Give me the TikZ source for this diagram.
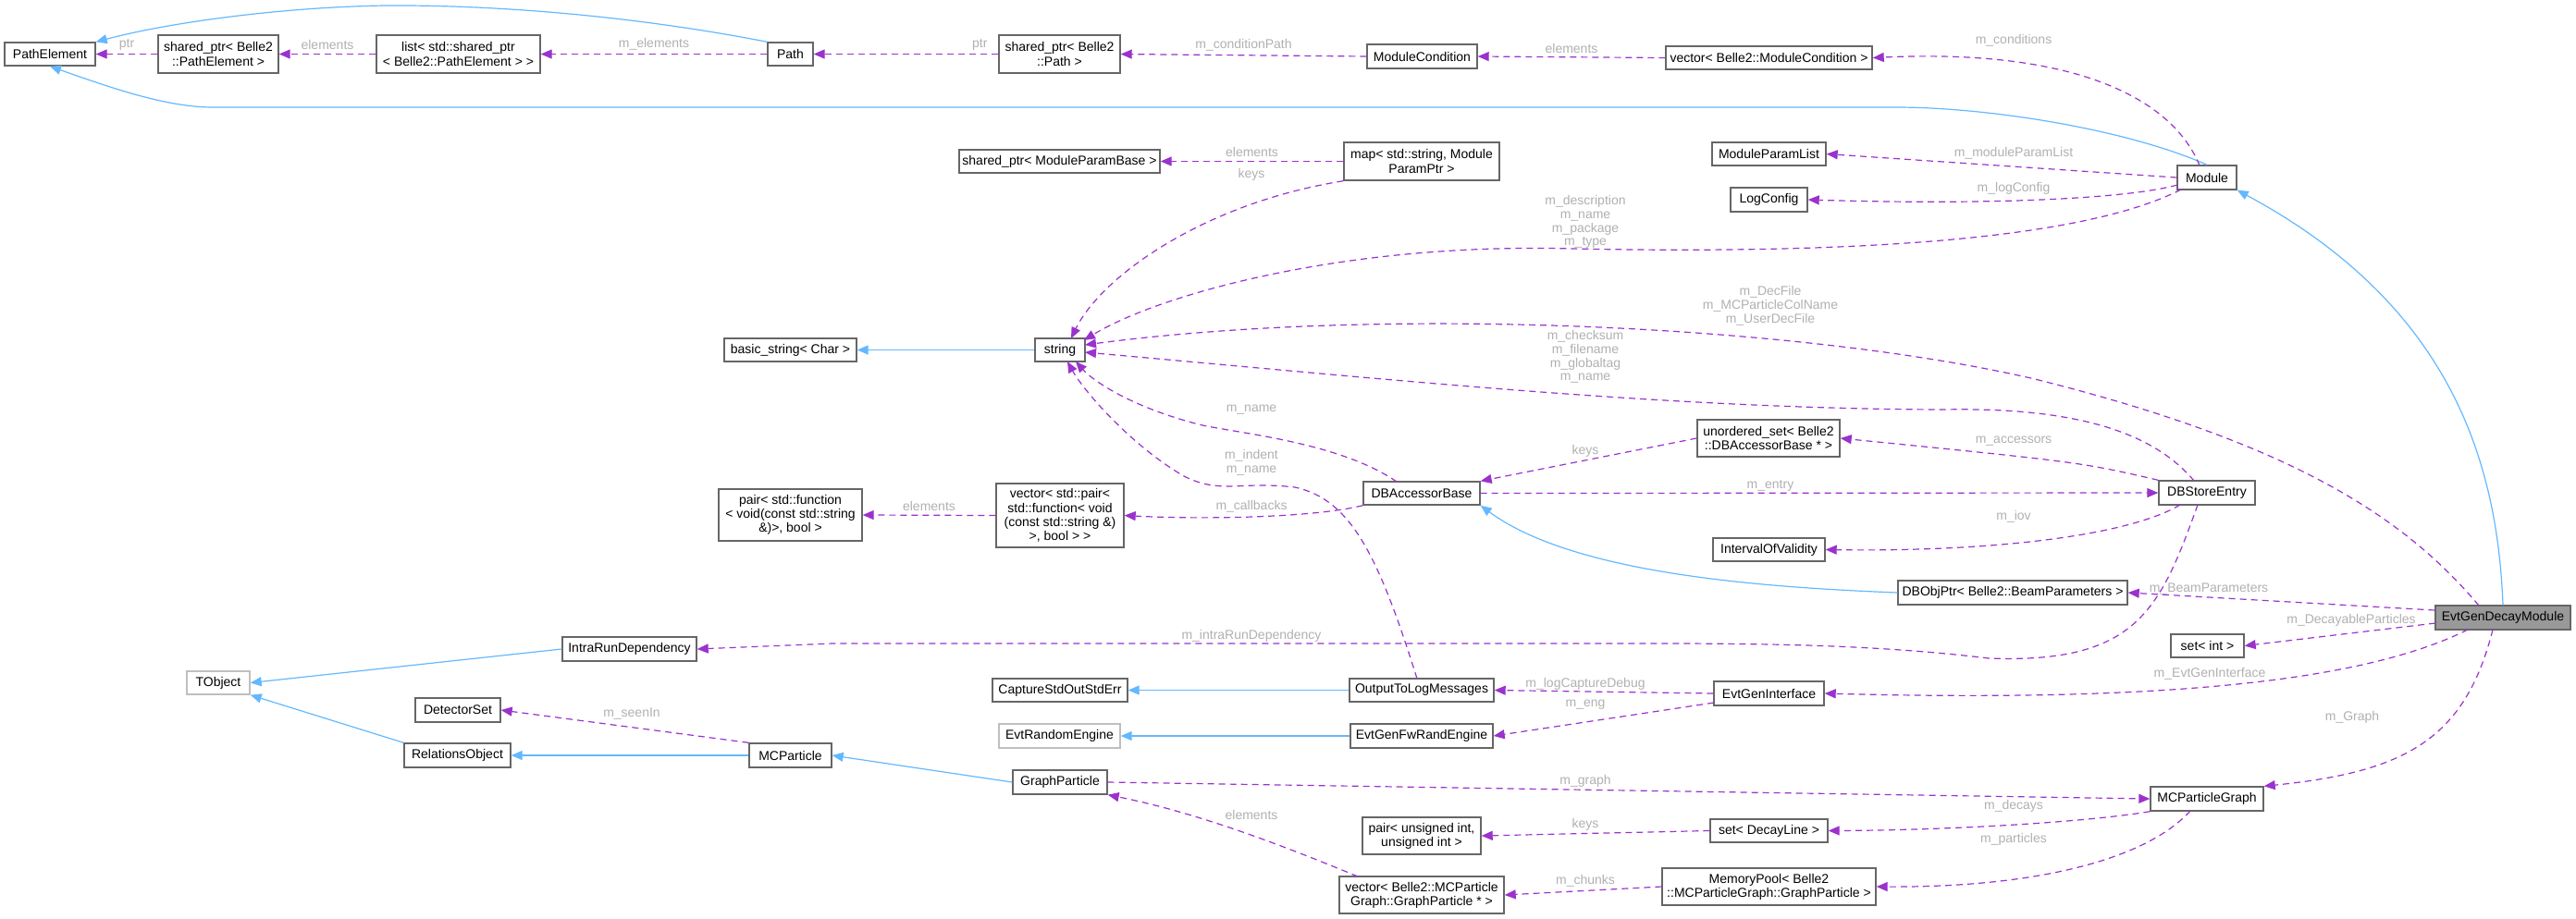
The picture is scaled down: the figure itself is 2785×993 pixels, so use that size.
\documentclass[tikz,border=0pt]{standalone}
\usepackage{fontspec}
\setmainfont{Liberation Sans}
\usetikzlibrary{arrows.meta}
\definecolor{dep}{HTML}{9A32CD}
\definecolor{inh}{HTML}{63B8FF}
\definecolor{lbl}{HTML}{B0B0B0}
\definecolor{bord}{HTML}{666666}
\definecolor{lbord}{HTML}{BFBFBF}
\newcommand\bx[7][]{\node[box,#1,minimum width={(#4-#2)*0.5pt},minimum height={(#5-#3)*0.5pt}] (#6) at ({(#2+#4)/2},{(#3+#5)/2}) {#7};}
\begin{document}
\begin{tikzpicture}[x=0.5pt,y=-0.5pt,
  box/.style={draw=bord,line width=0.7pt,fill=white,inner sep=0pt,align=center,font=\fontsize{7}{7.6}\selectfont},
  gbox/.style={draw=lbord},
  dep/.style={draw=dep,line width=0.6pt,dash pattern=on 3.5pt off 2.5pt,-{Triangle[length=6pt,width=5pt,fill=dep]}},
  inh/.style={draw=inh,line width=0.6pt,-{Triangle[length=6pt,width=5pt,fill=inh]}},
  lb/.style={text=lbl,inner sep=0pt,align=center,font=\fontsize{7}{7.4}\selectfont}]
\useasboundingbox (0,0) rectangle (2785,993);
% nodes
\bx{5}{46}{103}{71}{PE}{PathElement}
\bx{171}{38}{301}{79}{spPE}{shared\_ptr< Belle2\\::PathElement >}
\bx{407}{38}{584}{79}{list}{list< std::shared\_ptr\\< Belle2::PathElement > >}
\bx{830}{46}{879}{71}{Path}{Path}
\bx{1080}{38}{1211}{79}{spPath}{shared\_ptr< Belle2\\::Path >}
\bx{1478}{48}{1597}{74}{MC}{ModuleCondition}
\bx{1801}{50}{2024}{75}{vMC}{vector< Belle2::ModuleCondition >}
\bx{1037}{162}{1254}{187}{spMPB}{shared\_ptr< ModuleParamBase >}
\bx{1453}{154}{1621}{195}{map}{map< std::string, Module\\ParamPtr >}
\bx{1851}{154}{1974}{179}{MPL}{ModuleParamList}
\bx{1871}{203}{1954}{229}{LC}{LogConfig}
\bx{2354}{179}{2418}{205}{Mod}{Module}
\bx{783}{366}{926}{391}{bs}{basic\_string< Char >}
\bx{1119}{366}{1173}{391}{str}{string}
\bx{1835}{454}{1989}{494}{us}{unordered\_set< Belle2\\::DBAccessorBase * >}
\bx{777}{529}{932}{585}{pf}{pair< std::function\\< void(const std::string\\\&)>, bool >}
\bx{1077}{523}{1215}{592}{vp}{vector< std::pair<\\std::function< void\\(const std::string \&)\\>, bool > >}
\bx{1474}{521}{1600}{546}{DBAB}{DBAccessorBase}
\bx{2334}{520}{2438}{546}{DBSE}{DBStoreEntry}
\bx{1852}{582}{1973}{607}{IOV}{IntervalOfValidity}
\bx{2052}{628}{2300}{654}{DBOP}{DBObjPtr< Belle2::BeamParameters >}
\bx[fill={rgb,255:red,153;green,153;blue,153},draw=bord]{2633}{655}{2779}{681}{EG}{EvtGenDecayModule}
\bx{2347}{686}{2426}{711}{si}{set< int >}
\bx{608}{689}{753}{715}{IRD}{IntraRunDependency}
\bx[gbox]{202}{726}{270}{751}{TO}{TObject}
\bx{449}{755}{541}{781}{DS}{DetectorSet}
\bx{437}{804}{552}{830}{RO}{RelationsObject}
\bx{810}{804}{899}{830}{MCP}{MCParticle}
\bx{1073}{734}{1219}{759}{CS}{CaptureStdOutStdErr}
\bx{1459}{734}{1615}{759}{OTL}{OutputToLogMessages}
\bx{1853}{737}{1972}{763}{EGI}{EvtGenInterface}
\bx[gbox]{1080}{783}{1211}{809}{ERE}{EvtRandomEngine}
\bx{1460}{783}{1614}{809}{EGF}{EvtGenFwRandEngine}
\bx{1095}{833}{1197}{859}{GP}{GraphParticle}
\bx{2325}{851}{2447}{877}{MCPG}{MCParticleGraph}
\bx{1473}{884}{1601}{924}{pu}{pair< unsigned int,\\unsigned int >}
\bx{1849}{886}{1976}{911}{sdl}{set< DecayLine >}
\bx{1448}{948}{1626}{988}{vgp}{vector< Belle2::MCParticle\\Graph::GraphParticle * >}
\bx{1797}{939}{2028}{979}{mp}{MemoryPool< Belle2\\::MCParticleGraph::GraphParticle >}
% inheritance
\draw[inh] (Path.north west) .. controls (700,20) and (550,5) .. (415,6) .. controls (300,8) and (180,25) .. (PE.north east);
\draw[inh] (Mod.north) .. controls (2300,140) and (2150,116) .. (2050,116) -- (230,116) .. controls (180,116) and (120,95) .. (PE.south);
\draw[inh] (str.west) -- (bs.east);
\draw[inh] (DBOP.west) .. controls (1900,635) and (1700,620) .. (DBAB.south east);
\draw[inh] (EG.north) .. controls (2700,500) and (2650,330) .. (Mod.south east);
\draw[inh] (IRD.west) -- (TO.east);
\draw[inh] (RO.north west) -- (TO.south east);
\draw[inh] (MCP.west) -- (RO.east);
\draw[inh] (GP.west) -- (MCP.east);
\draw[inh] (OTL.west) -- (CS.east);
\draw[inh] (EGF.west) -- (ERE.east);
% dependencies
\draw[dep] (spPE.west) -- node[lb,above=2pt]{ptr} (PE.east);
\draw[dep] (list.west) -- node[lb,above=2pt]{elements} (spPE.east);
\draw[dep] (Path.west) -- node[lb,above=2pt]{m\_elements} (list.east);
\draw[dep] (spPath.west) -- node[lb,pos=0.1,above=2pt]{ptr} (Path.east);
\draw[dep] (MC.west) -- node[lb,above=2pt]{m\_conditionPath} (spPath.east);
\draw[dep] (vMC.west) -- node[lb,above=2pt]{elements} (MC.east);
\draw[dep] (2378,179) .. controls (2350,110) and (2250,52) .. (vMC.east);
\node[lb] at (2177,44) {m\_conditions};
\draw[dep] (map.west) -- node[lb,above=2pt]{elements} (spMPB.east);
\draw[dep] (map.south west) .. controls (1300,220) and (1190,300) .. (1158,366);
\node[lb] at (1353,189) {keys};
\draw[dep] (Mod.west) -- (MPL.east);
\node[lb] at (2177,166) {m\_moduleParamList};
\draw[dep] (2354,200) .. controls (2300,215) and (2150,222) .. (LC.east);
\node[lb] at (2177,204) {m\_logConfig};
\draw[dep] (2358,205) .. controls (2250,260) and (2000,275) .. (1700,269) .. controls (1450,262) and (1250,320) .. (1172,368);
\node[lb] at (1714,240) {m\_description\\m\_name\\m\_package\\m\_type};
\draw[dep] (2680,655) .. controls (2600,560) and (2480,480) .. (2200,410) .. controls (1950,352) and (1500,330) .. (1173,373);
\node[lb] at (1914,331) {m\_DecFile\\m\_MCParticleColName\\m\_UserDecFile};
\draw[dep] (2372,520) .. controls (2330,470) and (2250,440) .. (2100,443) .. controls (1800,442) and (1500,410) .. (1173,381);
\node[lb] at (1714,386) {m\_checksum\\m\_filename\\m\_globaltag\\m\_name};
\draw[dep] (1510,521) .. controls (1450,480) and (1350,470) .. (1300,460) .. controls (1220,440) and (1180,410) .. (1163,391);
\node[lb] at (1353,443) {m\_name};
\draw[dep] (1532,734) .. controls (1490,600) and (1460,540) .. (1400,527) .. controls (1340,520) and (1320,535) .. (1280,515) .. controls (1220,480) and (1170,420) .. (1154,391);
\node[lb] at (1353,500) {m\_indent\\m\_name};
\draw[dep] (us.west) -- (DBAB.north east);
\node[lb] at (1714,488) {keys};
\draw[dep] (DBSE.north west) .. controls (2250,500) .. (us.east);
\node[lb] at (2177,477) {m\_accessors};
\draw[dep] (DBAB.east) -- (DBSE.west);
\node[lb] at (1914,525) {m\_entry};
\draw[dep] (2357,546) .. controls (2300,580) and (2150,597) .. (IOV.east);
\node[lb] at (2177,559) {m\_iov};
\draw[dep] (DBAB.south west) .. controls (1420,560) and (1300,562) .. (vp.east);
\node[lb] at (1353,548) {m\_callbacks};
\draw[dep] (vp.west) -- node[lb,above=2pt]{elements} (pf.east);
\draw[dep] (EG.west) ++(0,-8) -- (DBOP.east);
\node[lb] at (2388,637) {m\_BeamParameters};
\draw[dep] (2376,546) .. controls (2335,660) and (2310,718) .. (2150,712) .. controls (2050,700) and (1950,696) .. (1800,696) -- (900,696) -- (IRD.east);
\node[lb] at (1353,688) {m\_intraRunDependency};
\draw[dep] (2633,674) -- (si.east);
\node[lb] at (2542,671) {m\_DecayableParticles};
\draw[dep] (2668,681) .. controls (2560,735) and (2350,760) .. (EGI.east);
\node[lb] at (2389,729) {m\_EvtGenInterface};
\draw[dep] (EGI.west) -- (OTL.east);
\node[lb] at (1714,740) {m\_logCaptureDebug};
\draw[dep] (1853,760) -- (EGF.east);
\node[lb] at (1714,762) {m\_eng};
\draw[dep] (2695,681) .. controls (2665,800) and (2600,835) .. (MCPG.north east);
\node[lb] at (2543,776) {m\_Graph};
\draw[dep] (GP.east) -- (MCPG.west);
\node[lb] at (1714,845) {m\_graph};
\draw[dep] (MCPG.south west) .. controls (2250,890) and (2100,898) .. (sdl.east);
\node[lb] at (2177,872) {m\_decays};
\draw[dep] (2368,877) .. controls (2320,930) and (2200,960) .. (mp.east);
\node[lb] at (2177,908) {m\_particles};
\draw[dep] (sdl.west) -- (pu.east);
\node[lb] at (1714,892) {keys};
\draw[dep] (mp.west) -- (vgp.east);
\node[lb] at (1714,953) {m\_chunks};
\draw[dep] (1468,948) .. controls (1400,920) and (1300,880) .. (GP.south east);
\node[lb] at (1353,881) {elements};
\draw[dep] (MCP.north west) -- (DS.east);
\node[lb] at (683,772) {m\_seenIn};
\end{tikzpicture}
\end{document}
